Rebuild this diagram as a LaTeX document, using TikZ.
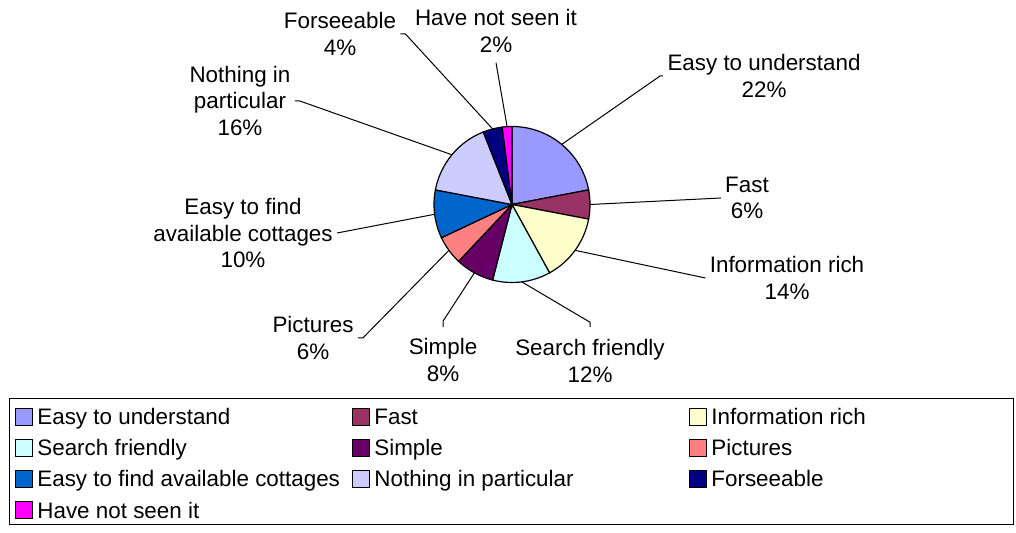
\documentclass[tikz,border=0pt]{standalone}
\usepackage{fontspec}
\setmainfont{Liberation Sans}
\definecolor{cEasy}{HTML}{9999FF}
\definecolor{cFast}{HTML}{993366}
\definecolor{cInfo}{HTML}{FFFFCC}
\definecolor{cSearch}{HTML}{CCFFFF}
\definecolor{cSimple}{HTML}{660066}
\definecolor{cPict}{HTML}{FF8080}
\definecolor{cFind}{HTML}{0066CC}
\definecolor{cNothing}{HTML}{CCCCFF}
\definecolor{cFore}{HTML}{000080}
\definecolor{cSeen}{HTML}{FF00FF}

\begin{document}
\begin{tikzpicture}[x=0.5pt,y=0.5pt,
    every node/.style={font=\fontsize{11.2}{13.2}\selectfont},
    lbl/.style={align=center,inner sep=2pt},
    slice/.style={draw=black,line width=0.6pt},
    leader/.style={line width=0.5pt},
    swatch/.style={draw=black,line width=0.5pt,inner sep=0pt,minimum size=8.5pt,anchor=west}]
    \useasboundingbox (0,0) rectangle (1016,-533);
    \coordinate (c) at (512,-204.5);
    % slices, clockwise from the top
    \filldraw[slice,fill=cEasy]    (c) -- ++(90:39pt)     arc[start angle=90,end angle=10.8,radius=39pt] -- cycle;
    \filldraw[slice,fill=cFast]    (c) -- ++(10.8:39pt)   arc[start angle=10.8,end angle=-10.8,radius=39pt] -- cycle;
    \filldraw[slice,fill=cInfo]    (c) -- ++(-10.8:39pt)  arc[start angle=-10.8,end angle=-61.2,radius=39pt] -- cycle;
    \filldraw[slice,fill=cSearch]  (c) -- ++(-61.2:39pt)  arc[start angle=-61.2,end angle=-104.4,radius=39pt] -- cycle;
    \filldraw[slice,fill=cSimple]  (c) -- ++(-104.4:39pt) arc[start angle=-104.4,end angle=-133.2,radius=39pt] -- cycle;
    \filldraw[slice,fill=cPict]    (c) -- ++(-133.2:39pt) arc[start angle=-133.2,end angle=-154.8,radius=39pt] -- cycle;
    \filldraw[slice,fill=cFind]    (c) -- ++(-154.8:39pt) arc[start angle=-154.8,end angle=-190.8,radius=39pt] -- cycle;
    \filldraw[slice,fill=cNothing] (c) -- ++(-190.8:39pt) arc[start angle=-190.8,end angle=-248.4,radius=39pt] -- cycle;
    \filldraw[slice,fill=cFore]    (c) -- ++(-248.4:39pt) arc[start angle=-248.4,end angle=-262.8,radius=39pt] -- cycle;
    \filldraw[slice,fill=cSeen]    (c) -- ++(-262.8:39pt) arc[start angle=-262.8,end angle=-270,radius=39pt] -- cycle;
    % rim points for the leaders
    \path (c) ++(50.4:39pt) coordinate (reu);
    \path (c) ++(0:39pt) coordinate (rfa);
    \path (c) ++(-36:39pt) coordinate (rir);
    \path (c) ++(-82.8:39pt) coordinate (rsf);
    \path (c) ++(-118.8:39pt) coordinate (rsi);
    \path (c) ++(-144:39pt) coordinate (rpi);
    \path (c) ++(-172.8:39pt) coordinate (ref);
    \path (c) ++(-219.6:39pt) coordinate (rnp);
    \path (c) ++(-255.6:39pt) coordinate (rfo);
    \path (c) ++(-266.4:39pt) coordinate (rhn);
    % labels
    \node[lbl] (eu) at (764,-76) {Easy to understand\\22\%};
    \node[lbl] (fa) at (747,-198) {Fast\\6\%};
    \node[lbl] (ir) at (787,-278) {Information rich\\14\%};
    \node[lbl] (sf) at (590,-361) {Search friendly\\12\%};
    \node[lbl] (si) at (443,-360) {Simple\\8\%};
    \node[lbl] (pi) at (313,-338) {Pictures\\6\%};
    \node[lbl] (ef) at (243,-233) {Easy to find\\available cottages\\10\%};
    \node[lbl] (np) at (240,-101) {Nothing in\\particular\\16\%};
    \node[lbl] (fo) at (340,-34) {Forseeable\\4\%};
    \node[lbl] (hn) at (496,-31) {Have not seen it\\2\%};
    \draw[leader] (eu.west) -- ++(-3,0) -- (reu);
    \draw[leader] (fa.west) -- (rfa);
    \draw[leader] (ir.west) -- (rir);
    \draw[leader] ([yshift=4pt]sf.north) -- ++(0,5) -- (rsf);
    \draw[leader] ([yshift=3.5pt]si.north) -- ++(0,6) -- (rsi);
    \draw[leader] (pi.east) -- ++(5,0) -- (rpi);
    \draw[leader] (ef.east) -- (ref);
    \draw[leader] (np.east) -- ++(5,0) -- (rnp);
    \draw[leader] (fo.east) -- ++(5,0) -- (rfo);
    \draw[leader] ([yshift=-3pt]hn.south) -- (rhn);
    % legend
    \draw[line width=0.5pt] (9,-399) rectangle (1013,-524);
    \foreach \x/\y/\col/\txt [count=\i] in {15/417/cEasy/Easy to understand,
        352/417/cFast/Fast, 689/417/cInfo/Information rich,
        15/448/cSearch/Search friendly, 352/448/cSimple/Simple,
        689/448/cPict/Pictures, 15/479/cFind/Easy to find available cottages,
        352/479/cNothing/Nothing in particular, 689/479/cFore/Forseeable,
        15/510/cSeen/Have not seen it}{
        \node[swatch,fill=\col] (sw\i) at (\x,-\y) {};
        \node[anchor=base west,inner sep=0pt] (lg\i) at (\x+22,-\y-8) {\txt};
    }
\end{tikzpicture}
\end{document}
